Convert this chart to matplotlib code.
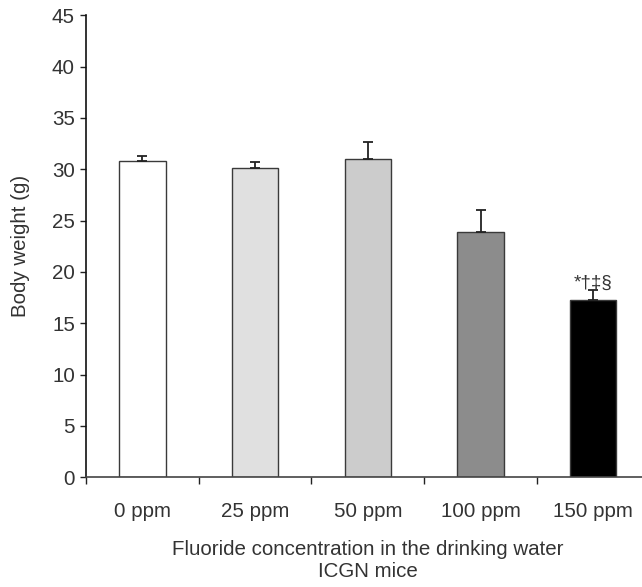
import numpy as np
import matplotlib.pyplot as plt

plt.rcParams['font.family'] = ['Liberation Sans', 'DejaVu Sans']

# mean body weight and SD per fluoride dose
groups = ['0 ppm', '25 ppm', '50 ppm', '100 ppm', '150 ppm']
weight = [30.8, 30.1, 31.0, 23.9, 17.3]
sd = [0.5, 0.6, 1.7, 2.1, 0.9]
fills = ['#ffffff', '#e0e0e0', '#cccccc', '#8c8c8c', '#000000']
marks = ['', '', '', '', '*\u2020\u2021\u00a7']

txt = '#333333'
fs = 14.8

fig = plt.figure(figsize=(6.42, 5.87), dpi=100)
ax = fig.add_axes([0.134, 0.187, 0.878, 0.787])

x = np.arange(len(groups))
ax.bar(x, weight, width=0.41, color=fills, edgecolor='#3a3a3a', linewidth=1.0, zorder=2)
# upper error bars only
ax.errorbar(x, weight, yerr=[np.zeros(len(sd)), sd], fmt='none', ecolor='#222222',
            elinewidth=1.3, capsize=3.5, capthick=1.3, zorder=3)

for xi, w, s, m in zip(x, weight, sd, marks):
    if m:
        ax.text(xi, w + s - 0.1, m, ha='center', va='bottom', fontsize=13.5, color=txt)

ax.set_xlim(-0.5, 4.5)
ax.set_ylim(0, 45)
ax.set_yticks(np.arange(0, 46, 5))
ax.tick_params(axis='y', labelsize=fs, length=4, width=1, pad=4, color='#222222', labelcolor=txt)

# boundary ticks on the category axis, labels centred under the bars
ax.set_xticks(np.arange(-0.5, 4.6, 1.0))
ax.set_xticklabels([])
ax.set_xticks(x, minor=True)
ax.set_xticklabels(groups, minor=True)
ax.tick_params(axis='x', which='major', length=5, width=1, direction='out', color='#222222')
ax.tick_params(axis='x', which='minor', length=0, pad=18, labelsize=fs, labelcolor=txt)

for side in ['top', 'right']:
    ax.spines[side].set_visible(False)
ax.spines['left'].set_linewidth(1.2)
ax.spines['left'].set_color('#111111')
ax.spines['bottom'].set_linewidth(1.2)
ax.spines['bottom'].set_color('#444444')

ax.set_ylabel('Body weight (g)', fontsize=fs, color=txt)
ax.yaxis.set_label_coords(-0.1, 0.5)
ax.set_xlabel('Fluoride concentration in the drinking water\nICGN mice',
              fontsize=fs, color=txt, linespacing=1.2)
ax.xaxis.set_label_coords(0.5, -0.135)

fig.savefig('out.png', dpi=100)
